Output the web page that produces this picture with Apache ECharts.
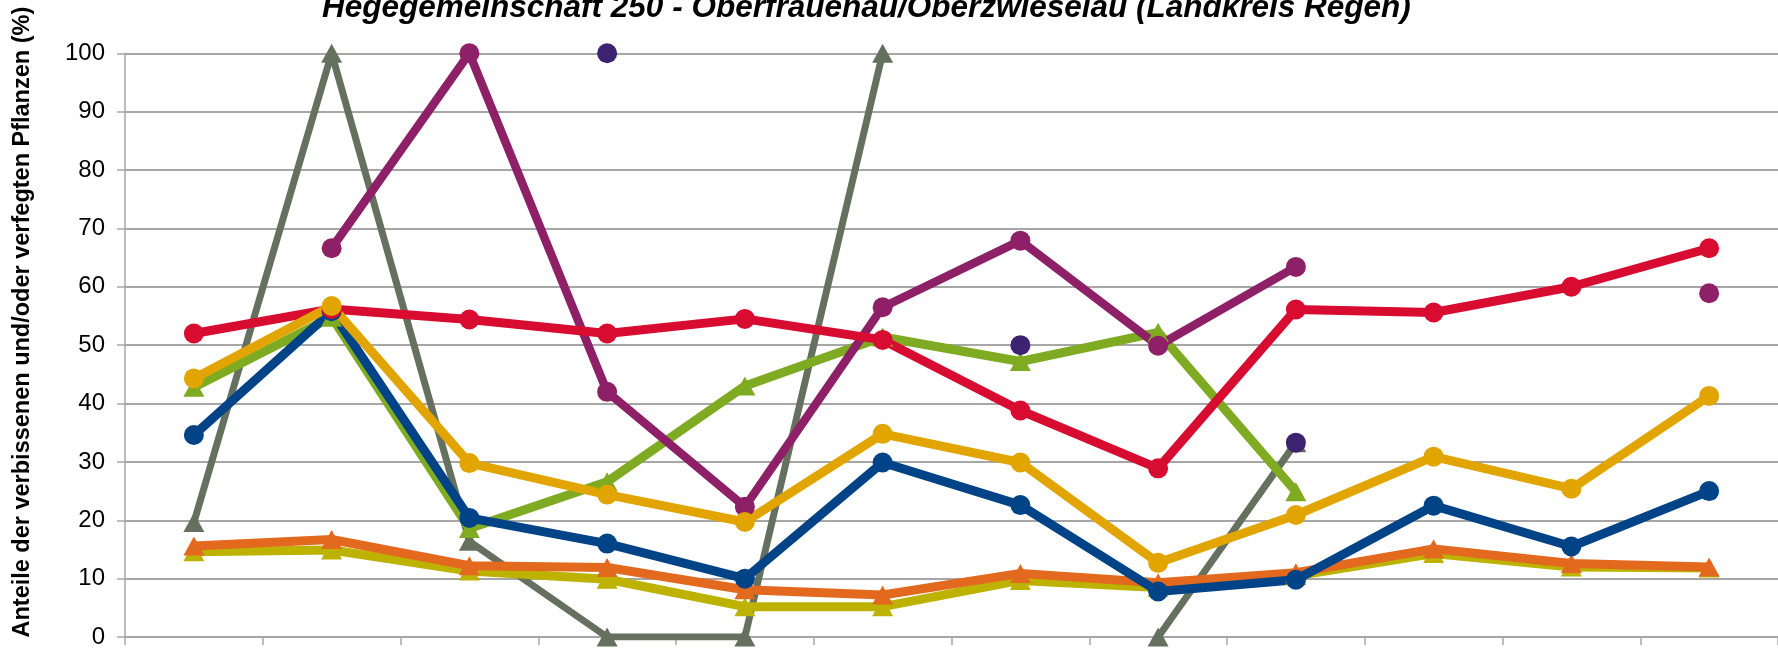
<!DOCTYPE html>
<html>
<head>
<meta charset="utf-8">
<script src="https://cdn.jsdelivr.net/npm/echarts@6/dist/echarts.min.js"></script>
<style>
html,body{margin:0;padding:0;background:#fff;}
#chart{width:1778px;height:649px;}
</style>
</head>
<body>
<div id="chart"></div>
<script>
const titleText = "Hegegemeinschaft 250 - Oberfrauenau/Oberzwieselau (Landkreis Regen)";
const yAxisTitle = "Anteile der verbissenen und/oder verfegten Pflanzen (%)";
const categories = ["1991","1994","1997","2000","2003","2006","2009","2012","2015","2018","2021","2024"];

const red       = [52.0, 56.2, 54.4, 52.0, 54.5, 50.9, 38.8, 28.9, 56.1, 55.6, 60.0, 66.6];
const yellow    = [44.3, 56.7, 29.8, 24.4, 19.7, 34.8, 29.9, 12.7, 20.9, 30.9, 25.4, 41.3];
const blue      = [34.6, 55.8, 20.4, 16.0, 10.0, 29.9, 22.6, 7.8, 9.8, 22.5, 15.5, 25.0];
const purple    = [null, 66.6, 100, 42.0, 22.3, 56.5, 67.9, 49.9, 63.4, null, null, 58.9];
const darkPurple= [null, null, null, 100, null, null, 50.0, null, 33.3, null, null, null];
const green     = [42.8, 54.8, 18.6, 26.6, 43.0, 51.4, 47.2, 52.2, 24.9, null, null, null];
const gray      = [19.6, 100, 16.4, 0, 0, 100, null, 0, 33.3, null, null, null];
const orange    = [15.6, 16.7, 12.2, 11.9, 8.1, 7.2, 10.9, 9.3, 11.0, 15.1, 12.6, 12.0];
const olive     = [14.6, 14.9, 11.3, 9.9, 5.2, 5.2, 9.7, 8.5, 10.5, 14.3, 12.0, 11.8];

const seriesDefs = [
  {name:"Reihe 1", data: gray,       color:"#65705E", symbol:"triangle", width:7},
  {name:"Reihe 2", data: olive,      color:"#BDB200", symbol:"triangle", width:9},
  {name:"Reihe 3", data: orange,     color:"#E3691F", symbol:"triangle", width:9},
  {name:"Reihe 4", data: green,      color:"#7EAB21", symbol:"triangle", width:9},
  {name:"Reihe 5", data: purple,     color:"#8E2068", symbol:"circle",   width:8.5},
  {name:"Reihe 6", data: blue,       color:"#004387", symbol:"circle",   width:9},
  {name:"Reihe 7", data: red,        color:"#D80B30", symbol:"circle",   width:9},
  {name:"Reihe 8", data: yellow,     color:"#E2A500", symbol:"circle",   width:9},
  {name:"Reihe 9", data: darkPurple, color:"#3C2270", symbol:"circle",   width:8}
];

const chart = echarts.init(document.getElementById('chart'), null, {renderer:'canvas'});
chart.setOption({
  animation:false,
  backgroundColor:'#ffffff',
  title:{
    text:titleText,
    left:317, top:-13,
    textStyle:{fontFamily:'Liberation Sans Narrow, Liberation Sans, sans-serif', fontStyle:'italic', fontWeight:'bold', fontSize:31.5, color:'#000'}
  },
  grid:{left:125, top:53.3, bottom:3.8, right:-16, containLabel:false},
  xAxis:{
    type:'category', data:categories, boundaryGap:true,
    axisLine:{lineStyle:{color:'#A6A6A6', width:1.5}},
    axisTick:{show:true, length:8, lineStyle:{color:'#A6A6A6', width:1.5}},
    axisLabel:{show:false}
  },
  yAxis:{
    type:'value', min:0, max:100, interval:10,
    name:yAxisTitle, nameLocation:'middle', nameGap:90,
    nameTextStyle:{fontFamily:'Liberation Sans, sans-serif', fontWeight:'bold', fontSize:23.5, color:'#000', padding:[0,0,0,46]},
    axisLine:{show:true, lineStyle:{color:'#A6A6A6', width:1.5}},
    axisTick:{show:true, length:8, lineStyle:{color:'#A6A6A6', width:1.5}},
    axisLabel:{margin:20, fontFamily:'Liberation Sans, sans-serif', fontSize:24, color:'#000'},
    splitLine:{show:true, lineStyle:{color:'#A6A6A6', width:1.8}}
  },
  series: seriesDefs.map(s => ({
    name:s.name, type:'line', data:s.data,
    symbol:s.symbol,
    symbolSize: s.symbol === 'triangle' ? [21,19] : 20,
    showSymbol:true, showAllSymbol:true, connectNulls:false,
    itemStyle:{color:s.color},
    lineStyle:{color:s.color, width:s.width},
    z:2
  }))
});
</script>
</body>
</html>
